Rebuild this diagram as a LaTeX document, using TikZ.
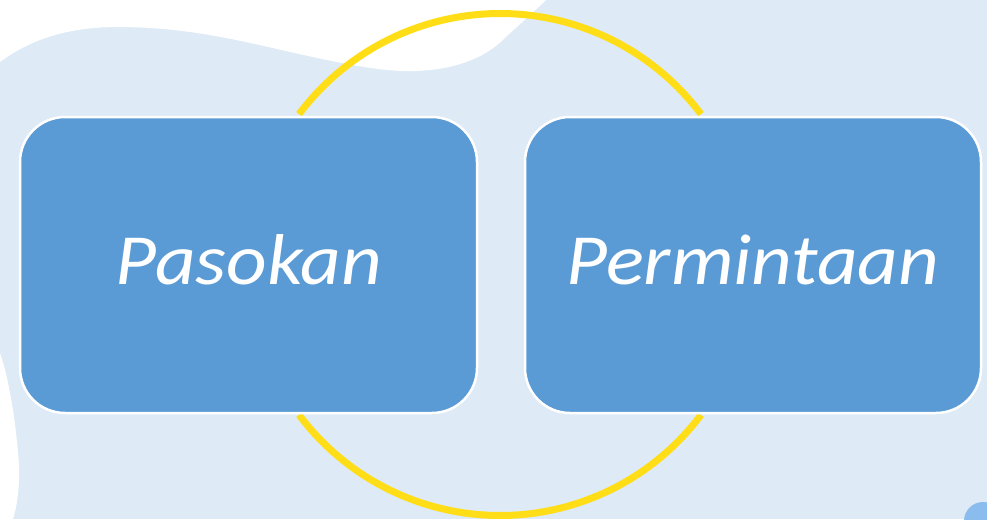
\documentclass[tikz,border=0pt]{standalone}
\usepackage{fontspec}
\setmainfont{Carlito}
\newfontfamily\cardfont[FakeStretch=1.1]{Carlito}
\definecolor{bgblue}{HTML}{DEEAF6}
\definecolor{boxblue}{HTML}{5B9BD5}
\definecolor{ringyellow}{HTML}{FFDE17}
\definecolor{dotblue}{HTML}{8BBCEE}
\tikzset{
  card/.style={draw=white, line width=2.5pt, fill=boxblue, rounded corners=45pt},
  cardtext/.style={text=white, font=\cardfont\fontsize{72}{80}\selectfont\itshape, anchor=base},
  ring/.style={draw=ringyellow, line width=7pt, line cap=butt}
}
\begin{document}
\begin{tikzpicture}[x=1pt,y=-1pt]
\useasboundingbox (0,0) rectangle (987,519);
% background
\fill[bgblue] (0,0) rectangle (987,519);
% white areas
\fill[white] (0,0) -- (0,62) .. controls (35,36) and (75,27) .. (118,27)
  .. controls (180,27) and (230,38) .. (290,52)
  .. controls (340,63) and (380,72) .. (414,71)
  .. controls (455,70) and (485,58) .. (505,38)
  .. controls (522,22) and (536,10) .. (546,0) -- cycle;
\fill[white] (0,353) .. controls (8,375) and (16,420) .. (19,465)
  .. controls (20,490) and (16,510) .. (13,519) -- (0,519) -- cycle;
\fill[dotblue] (983,521) circle (19);
% ring (two arcs ending at the cards)
\coordinate (c) at (500,264.5);
\draw[ring] ([shift={(216.8:251)}]c) arc[start angle=216.8, end angle=323.2, radius=251];
\draw[ring] ([shift={(36.8:251)}]c) arc[start angle=36.8, end angle=143.2, radius=251];
% cards
\draw[card] (20,117) rectangle (477,413);
\draw[card] (525,117) rectangle (981,413);
\node[cardtext] (p) at (249,284) {Pasokan};
\node[cardtext] (q) at (753,284) {Permintaan};
\end{tikzpicture}
\end{document}
